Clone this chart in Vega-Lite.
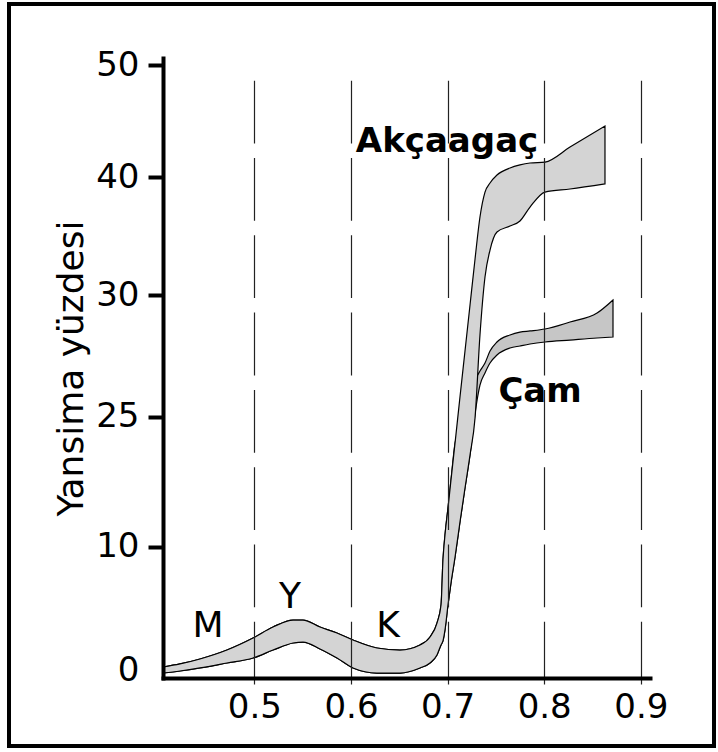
{
  "$schema": "https://vega.github.io/schema/vega-lite/v6.json",
  "width": 705,
  "height": 742,
  "autosize": {"type": "none"},
  "padding": {"left": 9, "top": 4, "right": 4, "bottom": 6},
  "background": "white",
  "config": {
    "view": {"stroke": "black", "strokeWidth": 4},
    "font": "DejaVu Sans"
  },
  "datasets": {
    "bands": [
      {"tur": "Akçaagaç", "wl": 0.4054, "lo": -0.25, "hi": 0.25},
      {"tur": "Akçaagaç", "wl": 0.4230, "lo": -0.08, "hi": 0.50},
      {"tur": "Akçaagaç", "wl": 0.4437, "lo": 0.17, "hi": 0.91},
      {"tur": "Akçaagaç", "wl": 0.4716, "lo": 0.58, "hi": 1.65},
      {"tur": "Akçaagaç", "wl": 0.4986, "lo": 0.99, "hi": 2.64},
      {"tur": "Akçaagaç", "wl": 0.5193, "lo": 1.65, "hi": 3.55},
      {"tur": "Akçaagaç", "wl": 0.5400, "lo": 2.23, "hi": 4.13},
      {"tur": "Akçaagaç", "wl": 0.5503, "lo": 2.31, "hi": 4.13},
      {"tur": "Akçaagaç", "wl": 0.5679, "lo": 1.74, "hi": 3.55},
      {"tur": "Akçaagaç", "wl": 0.5855, "lo": 0.99, "hi": 3.06},
      {"tur": "Akçaagaç", "wl": 0.6021, "lo": 0.17, "hi": 2.48},
      {"tur": "Akçaagaç", "wl": 0.6269, "lo": -0.25, "hi": 1.82},
      {"tur": "Akçaagaç", "wl": 0.6507, "lo": -0.25, "hi": 1.65},
      {"tur": "Akçaagaç", "wl": 0.6714, "lo": 0.17, "hi": 2.07},
      {"tur": "Akçaagaç", "wl": 0.6818, "lo": 0.58, "hi": 2.73},
      {"tur": "Akçaagaç", "wl": 0.6890, "lo": 1.24, "hi": 3.88},
      {"tur": "Akçaagaç", "wl": 0.6932, "lo": 2.07, "hi": 5.37},
      {"tur": "Akçaagaç", "wl": 0.6952, "lo": 2.40, "hi": 9.09},
      {"tur": "Akçaagaç", "wl": 0.6973, "lo": 3.31, "hi": 11.16},
      {"tur": "Akçaagaç", "wl": 0.7004, "lo": 5.37, "hi": 13.39},
      {"tur": "Akçaagaç", "wl": 0.7035, "lo": 7.19, "hi": 15.70},
      {"tur": "Akçaagaç", "wl": 0.7077, "lo": 9.34, "hi": 18.76},
      {"tur": "Akçaagaç", "wl": 0.7128, "lo": 12.23, "hi": 22.56},
      {"tur": "Akçaagaç", "wl": 0.7180, "lo": 15.04, "hi": 26.36},
      {"tur": "Akçaagaç", "wl": 0.7232, "lo": 17.77, "hi": 30.17},
      {"tur": "Akçaagaç", "wl": 0.7284, "lo": 20.83, "hi": 33.97},
      {"tur": "Akçaagaç", "wl": 0.7335, "lo": 27.69, "hi": 37.44},
      {"tur": "Akçaagaç", "wl": 0.7387, "lo": 32.48, "hi": 39.50},
      {"tur": "Akçaagaç", "wl": 0.7439, "lo": 34.71, "hi": 40.25},
      {"tur": "Akçaagaç", "wl": 0.7511, "lo": 36.20, "hi": 40.91},
      {"tur": "Akçaagaç", "wl": 0.7646, "lo": 36.69, "hi": 41.49},
      {"tur": "Akçaagaç", "wl": 0.7749, "lo": 37.11, "hi": 41.74},
      {"tur": "Akçaagaç", "wl": 0.7853, "lo": 38.26, "hi": 41.90},
      {"tur": "Akçaagaç", "wl": 0.8008, "lo": 39.50, "hi": 41.98},
      {"tur": "Akçaagaç", "wl": 0.8267, "lo": 39.75, "hi": 43.22},
      {"tur": "Akçaagaç", "wl": 0.8629, "lo": 40.17, "hi": 44.96},

      {"tur": "Çam", "wl": 0.4054, "lo": -0.25, "hi": 0.25},
      {"tur": "Çam", "wl": 0.4230, "lo": -0.08, "hi": 0.50},
      {"tur": "Çam", "wl": 0.4437, "lo": 0.17, "hi": 0.91},
      {"tur": "Çam", "wl": 0.4716, "lo": 0.58, "hi": 1.65},
      {"tur": "Çam", "wl": 0.4986, "lo": 0.99, "hi": 2.64},
      {"tur": "Çam", "wl": 0.5193, "lo": 1.65, "hi": 3.55},
      {"tur": "Çam", "wl": 0.5400, "lo": 2.23, "hi": 4.13},
      {"tur": "Çam", "wl": 0.5503, "lo": 2.31, "hi": 4.13},
      {"tur": "Çam", "wl": 0.5679, "lo": 1.74, "hi": 3.55},
      {"tur": "Çam", "wl": 0.5855, "lo": 0.99, "hi": 3.06},
      {"tur": "Çam", "wl": 0.6021, "lo": 0.17, "hi": 2.48},
      {"tur": "Çam", "wl": 0.6269, "lo": -0.25, "hi": 1.82},
      {"tur": "Çam", "wl": 0.6507, "lo": -0.25, "hi": 1.65},
      {"tur": "Çam", "wl": 0.6714, "lo": 0.17, "hi": 2.07},
      {"tur": "Çam", "wl": 0.6818, "lo": 0.58, "hi": 2.73},
      {"tur": "Çam", "wl": 0.6890, "lo": 1.24, "hi": 3.88},
      {"tur": "Çam", "wl": 0.6932, "lo": 2.07, "hi": 5.37},
      {"tur": "Çam", "wl": 0.6952, "lo": 2.40, "hi": 9.09},
      {"tur": "Çam", "wl": 0.6973, "lo": 3.31, "hi": 11.16},
      {"tur": "Çam", "wl": 0.7004, "lo": 5.37, "hi": 13.39},
      {"tur": "Çam", "wl": 0.7035, "lo": 7.19, "hi": 15.70},
      {"tur": "Çam", "wl": 0.7077, "lo": 9.34, "hi": 18.76},
      {"tur": "Çam", "wl": 0.7128, "lo": 12.23, "hi": 20.00},
      {"tur": "Çam", "wl": 0.7180, "lo": 15.04, "hi": 21.50},
      {"tur": "Çam", "wl": 0.7232, "lo": 17.77, "hi": 22.90},
      {"tur": "Çam", "wl": 0.7284, "lo": 21.20, "hi": 23.97},
      {"tur": "Çam", "wl": 0.7335, "lo": 23.55, "hi": 24.71},
      {"tur": "Çam", "wl": 0.7387, "lo": 24.55, "hi": 25.37},
      {"tur": "Çam", "wl": 0.7439, "lo": 25.37, "hi": 26.36},
      {"tur": "Çam", "wl": 0.7511, "lo": 26.03, "hi": 27.11},
      {"tur": "Çam", "wl": 0.7646, "lo": 26.61, "hi": 27.69},
      {"tur": "Çam", "wl": 0.7749, "lo": 26.78, "hi": 27.93},
      {"tur": "Çam", "wl": 0.7853, "lo": 26.94, "hi": 28.02},
      {"tur": "Çam", "wl": 0.8008, "lo": 27.11, "hi": 28.18},
      {"tur": "Çam", "wl": 0.8267, "lo": 27.27, "hi": 28.76},
      {"tur": "Çam", "wl": 0.8547, "lo": 27.44, "hi": 29.50},
      {"tur": "Çam", "wl": 0.8712, "lo": 27.52, "hi": 30.58}
    ],
    "labels": [
      {"kind": "bolge", "text": "M", "wl": 0.452, "r": 2.73},
      {"kind": "bolge", "text": "Y", "wl": 0.5369, "r": 5.12},
      {"kind": "bolge", "text": "K", "wl": 0.6383, "r": 2.73},
      {"kind": "tur", "text": "Akçaagaç", "wl": 0.6994, "r": 42.81},
      {"kind": "tur", "text": "Çam", "wl": 0.7957, "r": 22.15}
    ]
  },
  "layer": [
    {
      "data": {"name": "bands"},
      "transform": [{"filter": "datum.tur === 'Çam'"}],
      "mark": {"type": "area", "interpolate": "monotone", "fill": "#c6c6c6", "stroke": "black", "strokeWidth": 1.2},
      "encoding": {
        "x": {
          "field": "wl", "type": "quantitative",
          "scale": {"domain": [0.4054, 0.9095], "range": [154, 641], "nice": false, "zero": false},
          "axis": {
            "orient": "bottom", "offset": -68, "zindex": 1,
            "values": [0.5, 0.6, 0.7, 0.8, 0.9], "format": ".1f", "title": null,
            "grid": true, "gridDash": [62.8, 14.5], "gridDashOffset": 69.1,
            "gridColor": "#222222", "gridWidth": 1.2, "gridOpacity": 1,
            "ticks": false, "domainColor": "black", "domainWidth": 4, "domainCap": "square",
            "labelFontSize": 34, "labelColor": "black", "labelPadding": 12,
            "labelFont": "DejaVu Sans", "labelFlush": false, "labelOverlap": false
          }
        },
        "y": {
          "field": "hi", "type": "quantitative",
          "scale": {"domain": [-0.661, 50.579], "range": [674, 54], "nice": false, "zero": false},
          "axis": {
            "orient": "left", "offset": -154, "zindex": 1,
            "values": [0, 10.17, 20.91, 30.99, 40.74, 50],
            "labelExpr": "datum.value < 1 ? '0' : datum.value < 15 ? '10' : datum.value < 25 ? '25' : datum.value < 35 ? '30' : datum.value < 45 ? '40' : '50'",
            "grid": false,
            "tickSize": 15, "tickWidth": 4, "tickColor": "black",
            "tickOpacity": {"condition": {"test": "datum.value < 1", "value": 0}, "value": 1},
            "domainColor": "black", "domainWidth": 4, "domainCap": "square",
            "labelFontSize": 34, "labelColor": "black", "labelPadding": 9,
            "labelFont": "DejaVu Sans", "labelFlush": false, "labelOverlap": false,
            "title": "Yansima yüzdesi", "titleFontSize": 36, "titleFontWeight": "normal",
            "titleColor": "black", "titleFont": "DejaVu Sans", "titlePadding": 5
          }
        },
        "y2": {"field": "lo"}
      }
    },
    {
      "data": {"name": "bands"},
      "transform": [{"filter": "datum.tur === 'Akçaagaç'"}],
      "mark": {"type": "area", "interpolate": "monotone", "fill": "#d4d4d4", "stroke": "black", "strokeWidth": 1.2},
      "encoding": {
        "x": {"field": "wl", "type": "quantitative"},
        "y": {"field": "hi", "type": "quantitative"},
        "y2": {"field": "lo"}
      }
    },
    {
      "data": {"name": "labels"},
      "transform": [{"filter": "datum.kind === 'bolge'"}],
      "mark": {"type": "text", "align": "center", "baseline": "alphabetic", "fontSize": 36, "font": "DejaVu Sans", "color": "black"},
      "encoding": {
        "x": {"field": "wl", "type": "quantitative"},
        "y": {"field": "r", "type": "quantitative"},
        "text": {"field": "text"}
      }
    },
    {
      "data": {"name": "labels"},
      "transform": [{"filter": "datum.kind === 'tur'"}],
      "mark": {"type": "text", "align": "center", "baseline": "alphabetic", "fontSize": 34, "fontWeight": "bold", "font": "DejaVu Sans", "color": "black"},
      "encoding": {
        "x": {"field": "wl", "type": "quantitative"},
        "y": {"field": "r", "type": "quantitative"},
        "text": {"field": "text"}
      }
    }
  ]
}
